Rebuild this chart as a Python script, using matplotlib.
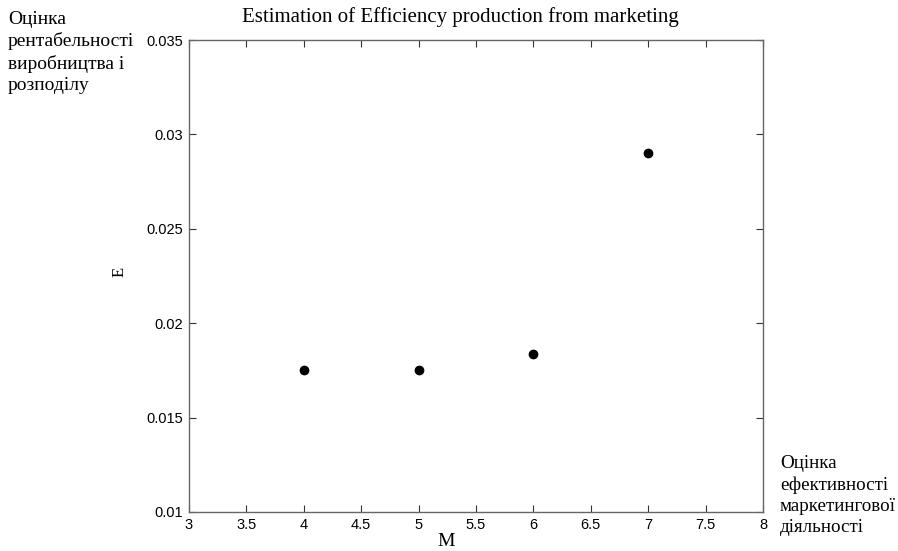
import matplotlib.pyplot as plt

# data
marketing = [4, 5, 6, 7]
efficiency = [0.0175, 0.01752, 0.01837, 0.0290]

x_ticks = [3, 3.5, 4, 4.5, 5, 5.5, 6, 6.5, 7, 7.5, 8]
x_tick_labels = ['3', '3.5', '4', '4.5', '5', '5.5', '6', '6.5', '7', '7.5', '8']
y_ticks = [0.01, 0.015, 0.02, 0.025, 0.03, 0.035]
y_tick_labels = ['0.01', '0.015', '0.02', '0.025', '0.03', '0.035']

serif = 'Liberation Serif'
sans = 'Liberation Sans'

fig = plt.figure(figsize=(8.98, 5.51), dpi=100)
ax = fig.add_axes([0.2105, 0.0708, 0.6392, 0.8566])

ax.plot(marketing, efficiency, 'o', color='black', markersize=6, linestyle='none')

ax.set_xlim(3, 8)
ax.set_ylim(0.01, 0.035)
ax.set_xticks(x_ticks)
ax.set_xticklabels(x_tick_labels, family=sans, fontsize=10.5)
ax.set_yticks(y_ticks)
ax.set_yticklabels(y_tick_labels, family=sans, fontsize=10.5)
ax.tick_params(direction='in', length=5, width=0.8, top=True, right=True,
               color='#333333')
ax.tick_params(axis='x', pad=4)
ax.tick_params(axis='y', pad=4)
for s in ax.spines.values():
    s.set_color('#666666')
    s.set_linewidth(1.0)

fig.text(460 / 898, 1 - 22 / 551, 'Estimation of Efficiency production from marketing',
         family=serif, fontsize=15, ha='center', va='baseline')
fig.text(446 / 898, 1 - 541 / 551, 'M', family=serif, fontsize=14,
         ha='center', va='center')
fig.text(120 / 898, 1 - 272 / 551, 'E', family=serif, fontsize=12,
         ha='center', va='center', rotation=90)

fig.text(8 / 898, 1 - 11 / 551, 'Оцінка\nрентабельності\nвиробництва і\nрозподілу',
         family=serif, fontsize=14, ha='left', va='top', linespacing=1.32)
fig.text(780 / 898, 1 - 455 / 551, 'Оцінка\nефективності\nмаркетингової\nдіяльності',
         family=serif, fontsize=13.7, ha='left', va='top', linespacing=1.32)

fig.savefig('out.png', dpi=100)
